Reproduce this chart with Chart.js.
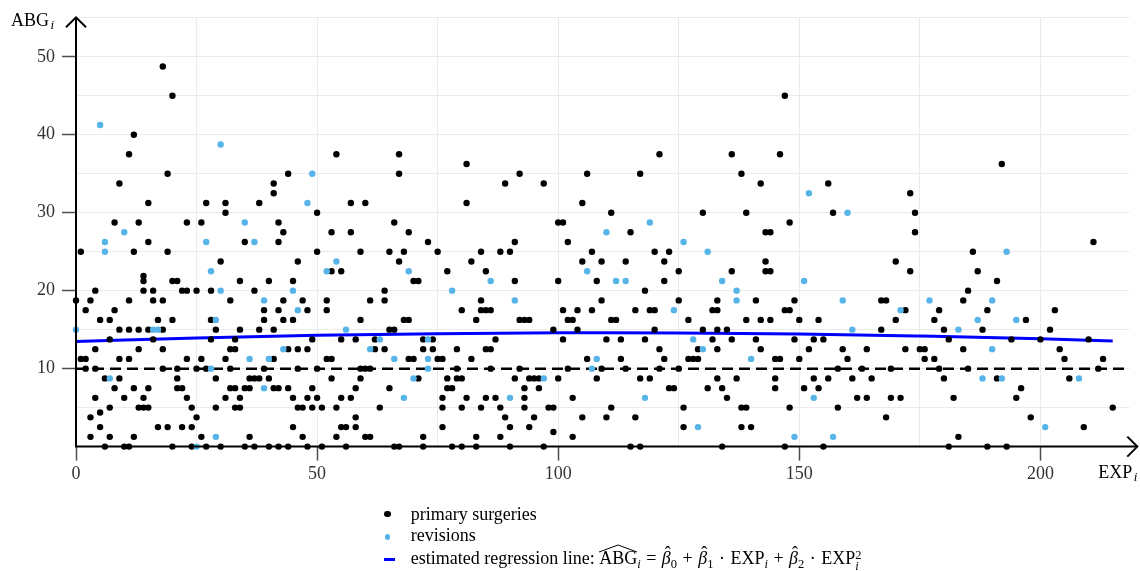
<!DOCTYPE html>
<html><head><meta charset="utf-8">
<script src="https://cdn.jsdelivr.net/npm/chart.js@4"></script>
<style>
html,body{margin:0;padding:0;background:#fff;}
#wrap{position:relative;width:1140px;height:572px;font-family:"Liberation Serif",serif;color:#000;overflow:hidden;}
canvas{position:absolute;left:0;top:0;}
.lg{position:absolute;font-size:18px;line-height:21px;white-space:nowrap;}
.mk{position:absolute;}
sub{font-size:12.5px;vertical-align:-4px;line-height:0;}
.wh{position:relative;display:inline-block;}
.wh svg{position:absolute;left:0;top:-3px;width:100%;height:7px;overflow:visible;}
.bh{position:relative;display:inline-block;}
.bh .ht{position:absolute;left:3px;top:-5px;font-style:normal;}
.ss{display:inline-block;vertical-align:-6px;font-size:12.5px;line-height:11px;}
.ss span{display:block;}
.op{padding:0 1px;}
</style></head><body>
<div id="wrap">
<canvas id="c" width="1140" height="572"></canvas>
<div class="mk" style="left:384.3px;top:511px;width:6.4px;height:6.4px;border-radius:50%;background:#000"></div>
<div class="mk" style="left:384.6px;top:534.3px;width:5.8px;height:5.8px;border-radius:50%;background:#56B4E9"></div>
<div class="mk" style="left:384px;top:557.5px;width:11px;height:3px;background:#0000ff"></div>
<div class="lg" style="left:410.7px;top:504.4px">primary surgeries</div>
<div class="lg" style="left:410.7px;top:525.4px">revisions</div>
<div class="lg" style="left:410.7px;top:548.4px">estimated regression line: <span class="wh">ABG<svg viewBox="0 0 100 10" preserveAspectRatio="none"><polyline points="0,10 50,0 100,10" fill="none" stroke="#000" stroke-width="1" vector-effect="non-scaling-stroke"/></svg></span><sub><i>i</i></sub> <span class="op">=</span> <span class="bh"><i>β</i><span class="ht">ˆ</span></span><sub>0</sub> <span class="op">+</span> <span class="bh"><i>β</i><span class="ht">ˆ</span></span><sub>1</sub> <span class="op">·</span> EXP<sub><i>i</i></sub> <span class="op">+</span> <span class="bh"><i>β</i><span class="ht">ˆ</span></span><sub>2</sub> <span class="op">·</span> EXP<span class="ss"><span>2</span><span><i>i</i></span></span></div>
</div>
<script>
// ---- data ----
const primaryPts = [
 [18,48.75],[20,45],[12,40],[11,37.5],[19,35],[9,33.75],[15,31.25],[27,31.25],[31,31.25],[31,30],
 [8,28.75],[13,28.75],[23,28.75],[26,28.75],[15,26.25],[35,26.25],[1,25],[12,25],[19,25],[30,23.75],
 [14,21.875],[14,21.25],[20,21.25],[21,21.25],[34,21.25],[4,20],[14,20],[16,20],[22,20],[23,20],[25,20],[28,20],
 [0,18.75],[3,18.75],[11,18.75],[16,18.75],[18,18.75],[32,18.75],[2,17.5],[8,17.5],
 [5,16.25],[7,16.25],[17,16.25],[20,16.25],[28,16.25],[9,15],[11,15],[13,15],[15,15],[18,15],[29,15],[34,15],
 [7,13.75],[16,13.75],[28,13.75],[33,13.75],[4,12.5],[13,12.5],[18,12.5],[32,12.5],[33,12.5],
 [1,11.25],[2,11.25],[9,11.25],[11,11.25],[23,11.25],[26,11.25],[31,11.25],
 [2,10],[4,10],[18,10],[21,10],[25,10],[27,10],[32,10],[6,8.75],[9,8.75],[21,8.75],[29,8.75],[36,8.75],
 [8,7.5],[12,7.5],[15,7.5],[21,7.5],[22,7.5],[32,7.5],[33,7.5],[35,7.5],[36,7.5],
 [4,6.25],[10,6.25],[14,6.25],[23,6.25],[31,6.25],[34,6.25],[7,5],[13,5],[14,5],[15,5],[24,5],[29,5],[33,5],[34,5],
 [3,3.75],[5,4.375],[25,3.75],[5,2.5],[17,2.5],[19,2.5],[22,2.5],[24,2.5],[3,1.25],[7,1.25],[12,1.25],[26,1.25],[36,1.25],
 [6,0],[10,0],[11,0],[20,0],[24,0],[27,0],[30,0],[35,0],
 [54,37.5],[67,37.5],[44,35],[67,35],[41,33.75],[41,32.5],[38,31.25],[57,31.25],[60,31.25],[50,30],[42,28.75],[66,28.75],
 [43,27.5],[53,27.5],[57,27.5],[69,27.5],[42,26.25],[73,26.25],[50,25],[59,25],[65,25],[68,25],[46,23.75],[67,23.75],
 [53,22.5],[55,22.5],[40,21.25],[45,21.25],[70,21.25],[71,21.25],[37,20],[64,20],[43,18.75],[47,18.75],[52,18.75],[61,18.75],[64,18.75],
 [39,17.5],[42,17.5],[48,17.5],[52,17.5],[39,16.25],[43,16.25],[45,16.25],[59,16.25],[68,16.25],[69,16.25],[38,15],[41,15],[65,15],[66,15],
 [49,13.75],[55,13.75],[58,13.75],[62,13.75],[72,13.75],[44,12.5],[46,12.5],[48,12.5],[62,12.5],[64,12.5],[72,12.5],
 [41,11.25],[52,11.25],[53,11.25],[69,11.25],[70,11.25],[39,10],[46,10],[50,10],[59,10],[60,10],[61,10],
 [37,8.75],[38,8.75],[40,8.75],[53,8.75],[59,8.75],[71,8.75],[41,7.5],[42,7.5],[44,7.5],[49,7.5],[58,7.5],[65,7.5],
 [45,6.25],[48,6.25],[50,6.25],[55,6.25],[57,6.25],[46,5],[47,5],[49,5],[51,5],[54,5],[63,5],[58,3.75],
 [45,2.5],[55,2.5],[56,2.5],[58,2.5],[47,1.25],[54,1.25],[60,1.25],[61,1.25],[72,1.25],
 [37,0],[40,0],[42,0],[44,0],[48,0],[51,0],[56,0],[66,0],[67,0],[72,0],
 [81,36.25],[92,35],[106,35],[89,33.75],[97,33.75],[81,31.25],[105,31.25],[100,28.75],[101,28.75],[91,26.25],[102,26.25],
 [75,25],[84,25],[88,25],[90,25],[107,25],[82,23.75],[105,23.75],[109,23.75],[77,22.5],[85,22.5],[91,21.25],[100,21.25],[108,21.25],
 [84,18.75],[109,18.75],[80,17.5],[84,17.5],[85,17.5],[86,17.5],[101,17.5],[104,17.5],[107,17.5],
 [83,16.25],[92,16.25],[93,16.25],[94,16.25],[102,16.25],[103,16.25],[99,15],[104,15],[74,13.75],[87,13.75],[101,13.75],
 [74,12.5],[79,12.5],[85,12.5],[86,12.5],[75,11.25],[76,11.25],[82,11.25],[106,11.25],[79,10],[86,10],[92,10],[102,10],[109,10],
 [77,8.75],[79,8.75],[80,8.75],[91,8.75],[94,8.75],[95,8.75],[96,8.75],[100,8.75],[108,8.75],[77,7.5],[78,7.5],[93,7.5],[96,7.5],
 [76,6.25],[81,6.25],[85,6.25],[87,6.25],[93,6.25],[103,6.25],[76,5],[80,5],[84,5],[88,5],[93,5],[98,5],[99,5],
 [89,3.75],[95,3.75],[105,3.75],[76,2.5],[90,2.5],[94,2.5],[99,1.875],[83,1.25],[88,1.25],[103,1.25],[78,0],[80,0],[83,0],[90,0],[97,0],
 [121,37.5],[136,37.5],[146,37.5],[117,35],[138,35],[142,33.75],[111,30],[130,30],[139,30],[115,27.5],[143,27.5],[144,27.5],
 [120,25],[123,25],[114,23.75],[122,23.75],[143,23.75],[125,22.5],[136,22.5],[143,22.5],[144,22.5],[122,21.25],[118,20],
 [125,18.75],[133,18.75],[141,18.75],[116,17.5],[119,17.5],[120,17.5],[132,17.5],[133,17.5],
 [111,16.25],[112,16.25],[127,16.25],[139,16.25],[142,16.25],[144,16.25],[120,15],[130,15],[133,15],[135,15],
 [110,13.75],[113,13.75],[118,13.75],[132,13.75],[136,13.75],[141,13.75],[121,12.5],[129,12.5],[133,12.5],[142,12.5],
 [113,11.25],[122,11.25],[127,11.25],[128,11.25],[129,11.25],[145,11.25],[114,10],[121,10],[125,10],
 [117,8.75],[119,8.75],[133,8.75],[137,8.75],[145,8.75],[123,7.5],[124,7.5],[131,7.5],[134,7.5],[145,7.5],[135,6.25],
 [111,5],[126,5],[138,5],[139,5],[110,3.75],[116,3.75],[126,2.5],[138,2.5],[140,2.5],[115,0],[117,0],[134,0],
 [147,45],[156,33.75],[173,32.5],[157,30],[174,30],[148,28.75],[174,27.5],[170,23.75],[173,22.5],
 [149,18.75],[167,18.75],[168,18.75],[147,17.5],[148,17.5],[172,17.5],[179,17.5],[150,16.25],[154,16.25],[170,16.25],[178,16.25],
 [167,15],[180,15],[149,13.75],[153,13.75],[155,13.75],[181,13.75],[152,12.5],[159,12.5],[164,12.5],[172,12.5],[175,12.5],[176,12.5],
 [146,11.25],[150,11.25],[160,11.25],[176,11.25],[178,11.25],[158,10],[163,10],[169,10],[179,10],
 [153,8.75],[156,8.75],[161,8.75],[165,8.75],[180,8.75],[151,7.5],[154,7.5],[162,6.25],[164,6.25],[169,6.25],[171,6.25],[182,6.25],
 [148,5],[158,5],[168,3.75],[147,0],[155,0],[181,0],
 [192,36.25],[211,26.25],[186,25],[187,22.5],[191,21.25],[185,20],[184,18.75],[189,17.5],[203,17.5],[197,16.25],
 [188,15],[202,15],[194,13.75],[200,13.75],[210,13.75],[184,12.5],[204,12.5],[205,11.25],[213,11.25],[185,10],[212,10],
 [191,8.75],[206,8.75],[196,7.5],[195,6.25],[198,3.75],[215,5],[209,2.5],[183,1.25],[189,0],[193,0]
];
const revisionPts = [
 [5,41.25],[30,38.75],[35,28.75],[10,27.5],[6,26.25],[27,26.25],[6,25],[28,22.5],[30,20],[29,16.25],[0,15],[16,15],[17,15],
 [36,11.25],[28,10],[7,8.75],[29,1.25],[25,0],
 [49,35],[48,31.25],[37,26.25],[54,23.75],[52,22.5],[69,22.5],[45,20],[39,18.75],[46,17.5],[56,15],[63,13.75],[43,12.5],[61,12.5],
 [40,11.25],[66,11.25],[70,8.75],[39,7.5],[68,6.25],
 [106,22.5],[86,21.25],[78,20],[91,18.75],[73,13.75],[73,11.25],[108,11.25],[73,10],[107,10],[97,8.75],[90,6.25],
 [119,28.75],[110,27.5],[126,26.25],[131,25],[112,21.25],[114,21.25],[134,21.25],[137,20],[137,18.75],[124,17.5],[128,13.75],
 [130,12.5],[140,11.25],[118,6.25],[129,2.5],
 [152,32.5],[160,30],[151,21.25],[159,18.75],[177,18.75],[171,17.5],[161,15],[153,6.25],[149,1.25],[157,1.25],
 [193,25],[190,18.75],[187,16.25],[195,16.25],[183,15],[190,12.5],[188,8.75],[192,8.75],[208,8.75],[201,2.5]
];
const fitX = [0, 25, 50, 75, 100, 125, 150, 175, 200, 215];
const fitY = [13.48, 13.94, 14.28, 14.49, 14.59, 14.57, 14.45, 14.18, 13.84, 13.53];
const refLineY = 10;
const xRange = [0, 218.5];
const yRange = [0, 55];
const xTickLabels = [0, 50, 100, 150, 200];
const yTickLabels = [10, 20, 30, 40, 50];

const FONT = '"Liberation Serif", "Times New Roman", serif';
const BLUE_PT = '#56B4E9';

const toXY = arr => arr.map(p => ({x: p[0], y: p[1]}));

const axisPlugin = {
  id: 'arrowAxes',
  afterDraw(chart) {
    const {ctx, chartArea: a, scales: {x, y}} = chart;
    const x0 = x.getPixelForValue(0), y0 = y.getPixelForValue(0);
    const topTip = a.top - 0.5, rightTip = a.right + 7.7;
    ctx.save();
    ctx.strokeStyle = '#000';
    ctx.lineWidth = 2;
    ctx.lineCap = 'butt';
    ctx.beginPath();
    ctx.moveTo(x0, y0); ctx.lineTo(x0, topTip);
    ctx.moveTo(x0 - 1, y0); ctx.lineTo(rightTip, y0);
    ctx.stroke();
    ctx.beginPath();
    ctx.moveTo(x0 - 10, topTip + 10); ctx.lineTo(x0, topTip); ctx.lineTo(x0 + 10, topTip + 10);
    ctx.moveTo(rightTip - 10, y0 - 10); ctx.lineTo(rightTip, y0); ctx.lineTo(rightTip - 10, y0 + 10);
    ctx.stroke();
    // axis titles
    ctx.fillStyle = '#000';
    ctx.textBaseline = 'alphabetic';
    ctx.textAlign = 'left';
    ctx.font = '18px ' + FONT;
    ctx.fillText('ABG', 11, 26);
    const wA = ctx.measureText('ABG').width;
    ctx.font = 'italic 13px ' + FONT;
    ctx.fillText('i', 11 + wA + 1.5, 28.5);
    ctx.font = '18px ' + FONT;
    const wE = ctx.measureText('EXP').width;
    ctx.font = 'italic 13px ' + FONT;
    const wi = ctx.measureText('i').width;
    const start = rightTip - (wE + 1.5 + wi);
    ctx.font = '18px ' + FONT;
    ctx.fillText('EXP', start, 478);
    ctx.font = 'italic 13px ' + FONT;
    ctx.fillText('i', start + wE + 1.5, 481);
    ctx.restore();
  }
};

new Chart(document.getElementById('c'), {
  type: 'scatter',
  data: {
    datasets: [
      {
        label: 'reference',
        data: xRange.map(v => ({x: v, y: refLineY})),
        showLine: true, borderColor: '#000', borderWidth: 2.5, borderDash: [11, 6],
        pointRadius: 0, order: 3
      },
      {
        label: 'estimated regression line',
        data: fitX.map((v, i) => ({x: v, y: fitY[i]})),
        showLine: true, borderColor: '#0000ff', borderWidth: 3, tension: 0.4,
        cubicInterpolationMode: 'monotone', pointRadius: 0, order: 2
      },
      {
        label: 'primary surgeries',
        data: toXY(primaryPts),
        backgroundColor: '#000', pointRadius: 3.2, pointBorderWidth: 0, borderWidth: 0,
        clip: false, order: 1
      },
      {
        label: 'revisions',
        data: toXY(revisionPts),
        backgroundColor: BLUE_PT, pointRadius: 3.2, pointBorderWidth: 0, borderWidth: 0,
        clip: false, order: 0
      }
    ]
  },
  options: {
    responsive: false,
    animation: false,
    events: [],
    layout: {padding: {left: 0, right: 10.4, top: 14.5, bottom: 85}},
    plugins: {legend: {display: false}, tooltip: {enabled: false}},
    scales: {
      x: {
        type: 'linear', min: xRange[0], max: xRange[1],
        afterBuildTicks: s => { s.ticks = s.ticks.filter(t => t.value % 25 === 0); },
        afterFit: s => { s.height = 40.4; },
        border: {display: false},
        grid: {
          color: '#ebebeb', lineWidth: 1, drawTicks: true, tickLength: 14,
          tickColor: c => (c.tick && xTickLabels.includes(c.tick.value)) ? '#4d4d4d' : 'rgba(0,0,0,0)',
          tickWidth: 1.5
        },
        ticks: {
          stepSize: 25, autoSkip: false, maxRotation: 0, padding: 3,
          color: '#333', font: {family: FONT, size: 18},
          callback: v => xTickLabels.includes(v) ? String(v) : ''
        }
      },
      y: {
        type: 'linear', min: yRange[0], max: yRange[1],
        afterBuildTicks: s => { s.ticks = s.ticks.filter(t => t.value % 5 === 0); },
        afterFit: s => { s.width = 76; },
        border: {display: false},
        grid: {
          color: '#ebebeb', lineWidth: 1, drawTicks: true, tickLength: 14,
          tickColor: c => (c.tick && yTickLabels.includes(c.tick.value)) ? '#4d4d4d' : 'rgba(0,0,0,0)',
          tickWidth: 1.5
        },
        ticks: {
          stepSize: 5, autoSkip: false, padding: 7,
          color: '#333', font: {family: FONT, size: 18},
          callback: v => yTickLabels.includes(v) ? String(v) : ''
        }
      }
    }
  },
  plugins: [axisPlugin]
});
</script>
</body></html>
